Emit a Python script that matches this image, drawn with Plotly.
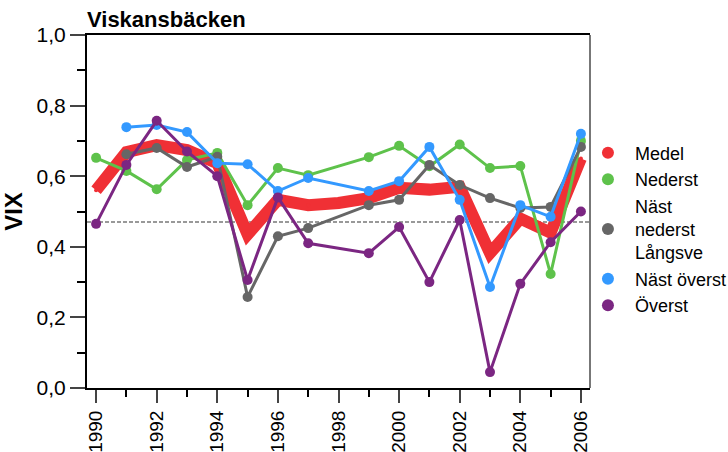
import plotly.graph_objects as go

years = list(range(1990, 2007))
series_names = ["Medel", "Nederst", "Näst<br>nederst<br>Långsve", "Näst överst", "Överst"]
colors = ["#f03035", "#5ec24b", "#666666", "#3399ff", "#7b2682"]

medel = [0.56, 0.668, 0.688, 0.674, 0.637, 0.435, 0.533, 0.518, 0.524, 0.538, 0.567, 0.562, 0.57, 0.382, 0.48, 0.44, 0.65]
nederst = [0.652, 0.615, 0.563, 0.646, 0.666, 0.518, 0.623, 0.603, None, 0.654, 0.686, 0.628, 0.69, 0.623, 0.629, 0.323, 0.70]
nast_nederst = [None, 0.662, 0.68, 0.626, 0.655, 0.258, 0.43, 0.453, None, 0.518, 0.533, 0.632, 0.575, 0.538, 0.51, 0.513, 0.683]
nast_overst = [None, 0.739, 0.745, 0.725, 0.637, 0.634, 0.558, 0.595, None, 0.558, 0.586, 0.683, 0.533, 0.286, 0.518, 0.485, 0.72]
overst = [0.465, 0.632, 0.757, 0.67, 0.60, 0.306, 0.54, 0.41, None, 0.382, 0.456, 0.30, 0.476, 0.045, 0.295, 0.413, 0.50]
reference_level = 0.47

all_series = [medel, nederst, nast_nederst, nast_overst, overst]
line_widths = [12, 3, 3, 3, 3]

fig = go.Figure()
for name, vals, col, lw in zip(series_names, all_series, colors, line_widths):
    fig.add_trace(go.Scatter(
        x=years, y=vals, mode="lines+markers", connectgaps=True,
        line=dict(color=col, width=lw),
        marker=dict(color=col, size=10 if lw < 10 else 4),
        showlegend=False, hoverinfo="skip"))
for name, col in zip(series_names, colors):
    fig.add_trace(go.Scatter(
        x=[None], y=[None], mode="markers", name=name,
        marker=dict(color=col, size=11)))

fig.add_shape(type="line", xref="paper", yref="y", x0=0, x1=1,
              y0=reference_level, y1=reference_level,
              line=dict(color="#999999", width=2, dash="4px,2px"), layer="below")
fig.add_shape(type="line", xref="paper", yref="paper", x0=1, x1=1, y0=0, y1=1,
              line=dict(color="#777777", width=2))

font = "Liberation Sans, Arial, sans-serif"
fig.update_layout(
    width=728, height=452,
    margin=dict(l=87, r=138, t=35, b=64, autoexpand=False),
    paper_bgcolor="white", plot_bgcolor="white",
    separators=", ",
    font=dict(family=font, size=21, color="black"),
    title=dict(text="<b>Viskansbäcken</b>", x=87/728, xanchor="left",
               xref="container", yref="container", y=0.975, yanchor="top",
               font=dict(size=22, family=font)),
    legend=dict(x=0.982, xanchor="left", y=0.718, yanchor="top",
                font=dict(size=18, family=font), tracegroupgap=0,
                bgcolor="rgba(0,0,0,0)",
                itemsizing="constant", itemwidth=44),
    xaxis=dict(range=[1989.7, 2006.3], tickmode="array",
               tickvals=list(range(1990, 2007, 2)),
               ticktext=[str(y) for y in range(1990, 2007, 2)],
               tickangle=-90, ticks="outside", ticklen=13, tickwidth=2,
               minor=dict(dtick=1, tick0=1990, ticks="outside", ticklen=7, tickwidth=2, tickcolor="black"),
               showline=True, linecolor="black", linewidth=2, mirror=True,
               showgrid=False, zeroline=False, tickfont=dict(size=19),
               automargin=False),
    yaxis=dict(range=[0, 1.0], dtick=0.2, tickformat=".1f",
               ticks="outside", ticklen=15, tickwidth=2,
               minor=dict(dtick=0.1, ticks="outside", ticklen=8, tickwidth=2, tickcolor="black"),
               showline=True, linecolor="black", linewidth=2,
               showgrid=False, zeroline=False,
               title=dict(text="<b>VIX</b>", font=dict(size=24), standoff=7),
               tickfont=dict(size=21), automargin=False),
)

fig.write_html("out.html", config={"displayModeBar": False},
               post_script="document.body.style.margin='0';")
